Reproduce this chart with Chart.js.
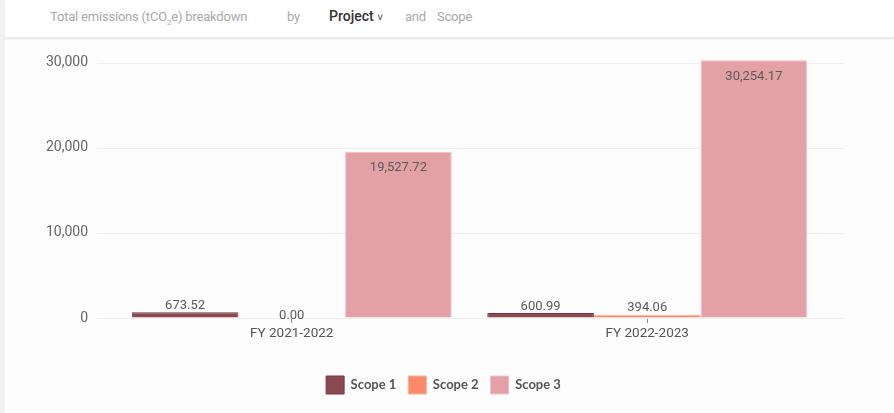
<!DOCTYPE html>
<html>
<head>
<meta charset="utf-8">
<script src="https://cdn.jsdelivr.net/npm/chart.js@4.4.1/dist/chart.umd.min.js"></script>
<style>
  html, body { margin: 0; padding: 0; background: #ffffff; }
  body { width: 894px; height: 413px; position: relative; overflow: hidden; font-family: Roboto, sans-serif; }
  .strip { position: absolute; left: 0; top: 0; width: 5px; height: 413px; background: #f1f1f1; }
  .panel { position: absolute; left: 5px; top: 42px; width: 889px; height: 371px; background: #fdfdfd; }
  .header { position: absolute; left: 5px; top: 0; width: 889px; height: 37px; background: #fff;
            border-bottom: 2px solid #ececec; box-shadow: 0 1px 2px rgba(0,0,0,0.05); }
  .header .t { position: absolute; top: 9px; font-size: 13px; color: #a9a9a9; white-space: nowrap; letter-spacing: -0.2px; }
  .header .p { color: #333; font-weight: 500; font-size: 14px; top: 8px; letter-spacing: 0; }
  .wrap { position: absolute; left: 5px; top: 23px; width: 889px; height: 390px; }
  canvas { display: block; }
</style>
</head>
<body>
<div class="strip"></div>
<div class="panel"></div>
<div class="header">
  <span class="t" style="left:45px;">Total emissions (tCO<sub style="font-size:8px;">2</sub>e) breakdown</span>
  <span class="t" style="left:282px;">by</span>
  <span class="t p" style="left:324px;">Project <span style="font-size:10px;">&#x2C5;</span></span>
  <span class="t" style="left:400px;">and</span>
  <span class="t" style="left:432px;">Scope</span>
</div>
<div class="wrap"><canvas id="myChartBar" width="889" height="390"></canvas></div>
<script>
// values
const categories = ['FY 2021-2022', 'FY 2022-2023'];
const scope1 = [673.52, 600.99];
const scope2 = [0.00, 394.06];
const scope3 = [19527.72, 30254.17];
const yTicks = [0, 10000, 20000, 30000];

const fmt = v => v.toLocaleString('en-US', { minimumFractionDigits: 2, maximumFractionDigits: 2 });

// faint horizontal lines, a bit wider than the plot area
const gridPlugin = {
    id: 'wideGrid',
    beforeDatasetsDraw(chart) {
        const ctx = chart.ctx;
        const y = chart.scales.y;
        ctx.save();
        ctx.strokeStyle = '#efefef';
        ctx.lineWidth = 1;
        y.ticks.forEach(t => {
            const py = Math.round(y.getPixelForValue(t.value)) + 0.5;
            ctx.beginPath();
            ctx.moveTo(92, py);
            ctx.lineTo(838, py);
            ctx.stroke();
        });
        ctx.restore();
    }
};

// value labels: inside the top for tall bars, above for short ones
const labelPlugin = {
    id: 'barLabels',
    afterDatasetsDraw(chart) {
        const ctx = chart.ctx;
        ctx.save();
        ctx.font = '13px Roboto';
        ctx.fillStyle = '#5a5a5a';
        ctx.textAlign = 'center';
        chart.data.datasets.forEach((ds, i) => {
            chart.getDatasetMeta(i).data.forEach((bar, j) => {
                const h = bar.base - bar.y;
                if (h > 30) {
                    ctx.textBaseline = 'middle';
                    ctx.fillText(fmt(ds.data[j]), bar.x, bar.y + 16);
                } else {
                    ctx.textBaseline = 'bottom';
                    ctx.fillText(fmt(ds.data[j]), bar.x, bar.y + (h < 1 ? 4 : 0));
                }
            });
        });
        ctx.restore();
    }
};

const ctx = document.getElementById('myChartBar').getContext('2d');
const chart = new Chart(ctx, {
    type: 'bar',
    data: {
        labels: categories,
        datasets: [
            { label: 'Scope 1', data: scope1, backgroundColor: '#8b4a51', borderColor: '#74363d', borderWidth: 1 },
            { label: 'Scope 2', data: scope2, backgroundColor: '#fb8a6b', borderColor: '#f7b3a0', borderWidth: 1 },
            { label: 'Scope 3', data: scope3, backgroundColor: '#e3a1a6', borderColor: '#ecc1c4', borderWidth: 1 }
        ]
    },
    options: {
        responsive: false,
        animation: false,
        layout: { padding: { top: 0, right: 12, bottom: 9, left: 0 } },
        datasets: { bar: { barPercentage: 1, categoryPercentage: 0.9 } },
        scales: {
            x: {
                grid: { display: true, drawOnChartArea: false, drawTicks: true, tickLength: 5, offset: false, color: '#888' },
                border: { display: false },
                ticks: { color: '#555', font: { family: 'Roboto', size: 13.5 }, padding: 3 },
                afterFit: s => { s.height = 46; }
            },
            y: {
                min: 0,
                max: 30600,
                grid: { drawOnChartArea: false, drawTicks: false },
                border: { display: false },
                afterBuildTicks: s => { s.ticks = yTicks.map(v => ({ value: v })); },
                ticks: { color: '#666', font: { family: 'Roboto', size: 14 }, padding: 26,
                         callback: v => v.toLocaleString('en-US') },
                afterFit: s => { s.width = 109; }
            },
            // empty right-hand space beside the plot
            yRight: {
                position: 'right',
                grid: { display: false },
                border: { display: false },
                ticks: { display: false },
                afterFit: s => { s.width = 57; }
            }
        },
        plugins: {
            legend: {
                position: 'bottom',
                labels: { boxWidth: 18, boxHeight: 18, padding: 12, color: '#555',
                          font: { family: 'Lato', size: 13, weight: 'bold' } }
            },
            tooltip: { enabled: false }
        }
    },
    plugins: [gridPlugin, labelPlugin]
});
</script>
</body>
</html>
